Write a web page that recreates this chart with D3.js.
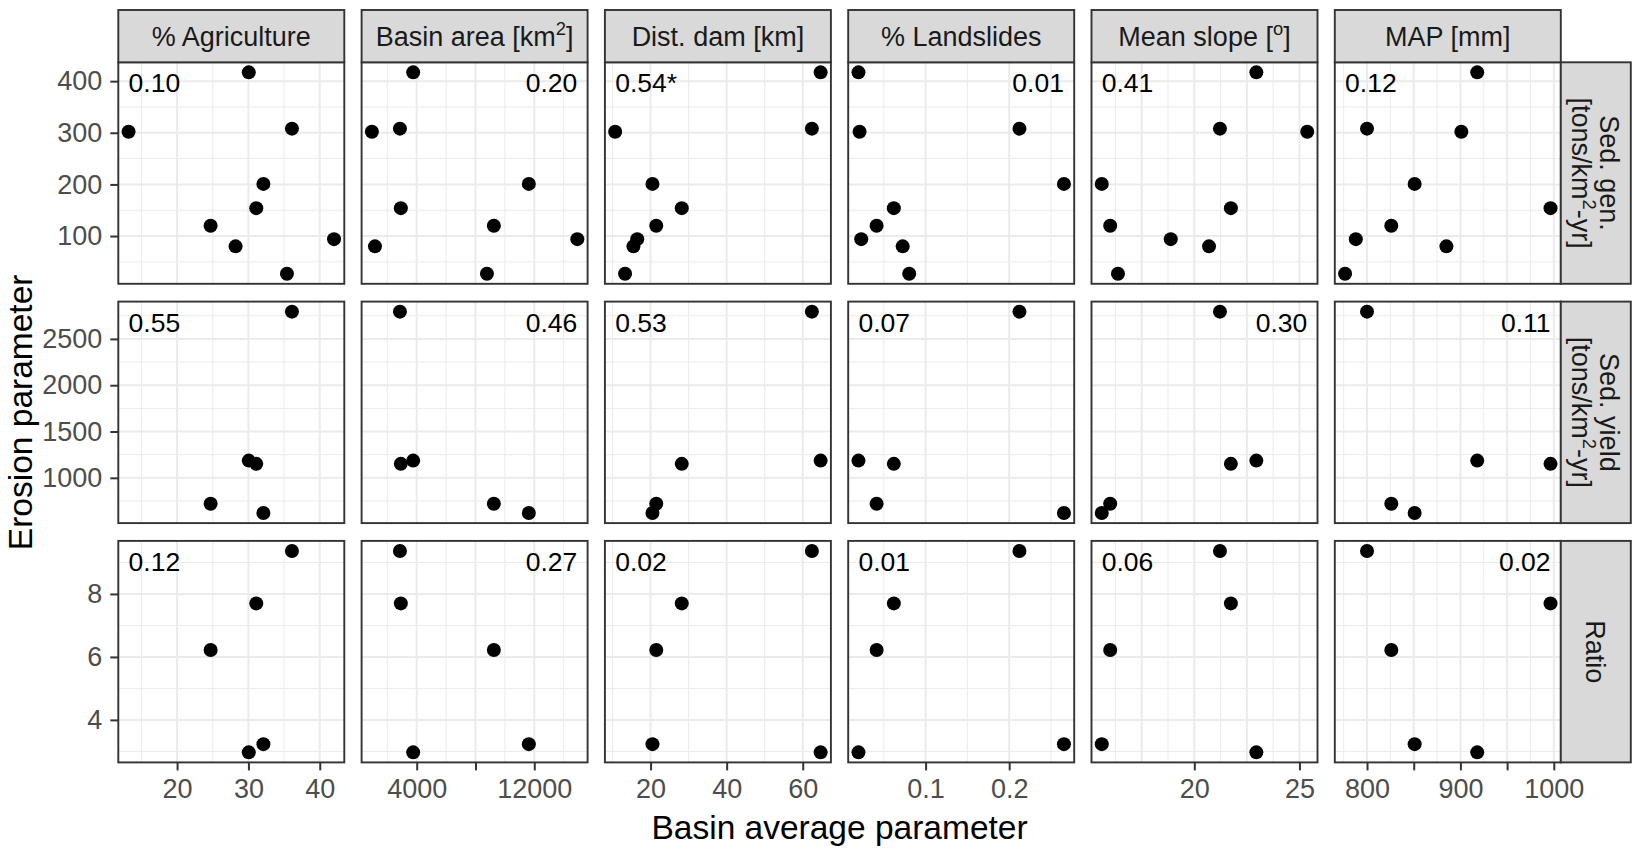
<!DOCTYPE html>
<html>
<head>
<meta charset="utf-8">
<script src="https://cdnjs.cloudflare.com/ajax/libs/d3/7.8.5/d3.min.js"></script>
<style>
  body { margin: 0; background: #fff; }
  text { font-family: "Liberation Sans", Arial, Helvetica, sans-serif; }
</style>
</head>
<body>
<div id="chart"></div>
<script>
// basin values, same basin order in every array (null = not measured)
var agriculture = [30.05, 13.2, 36.1, 32.1, 31.1, 24.7, 28.2, 42.0, 35.4];
var basinArea = [3760, 950, 2860, 11630, 2920, 9250, 1160, 14930, 8780];
var distDam = [64.7, 10.7, 62.4, 20.5, 28.2, 21.5, 15.5, 16.5, 13.3];
var landslides = [0.0197, 0.021, 0.2123, 0.2655, 0.062, 0.0414, 0.0726, 0.023, 0.0804];
var meanSlope = [22.95, 25.37, 21.22, 15.6, 21.74, 16.0, 20.7, 18.88, 16.37];
var precip = [918, 901, 800, 851, 996.5, 826, 885, 788, 776.5];

var sedGen = [417, 302, 308, 201, 154, 120, 80, 94, 27];
var sedYield = [1186, null, 2794, 620, 1151, 720, null, null, null];
var ratio = [2.97, null, 9.365, 3.23, 7.70, 6.22, null, null, null];

// facet labels (every 2nd piece is a superscript)
var colLabels = [["% Agriculture"], ["Basin area [km", "2", "]"], ["Dist. dam [km]"],
  ["% Landslides"], ["Mean slope [", "o", "]"], ["MAP [mm]"]];
var rowLabels = [[["Sed. gen."], ["[tons/km", "2", "-yr]"]],
  [["Sed. yield"], ["[tons/km", "2", "-yr]"]],
  [["Ratio"]]];

// r2 per panel [row][col] and the corner it goes in
var r2Labels = [["0.10", "0.20", "0.54*", "0.01", "0.41", "0.12"],
  ["0.55", "0.46", "0.53", "0.07", "0.30", "0.11"],
  ["0.12", "0.27", "0.02", "0.01", "0.06", "0.02"]];
var r2Side = [["l", "r", "l", "r", "l", "l"],
  ["l", "r", "l", "l", "r", "r"],
  ["l", "r", "l", "l", "l", "r"]];

// breaks
var xMajor = [[20, 30, 40], [4000, 8000, 12000], [20, 40, 60], [0.1, 0.2], [17.5, 20, 22.5, 25], [800, 850, 900, 950, 1000]];
var xMinor = [[15, 25, 35], [2000, 6000, 10000, 14000], [10, 30, 50], [0.05, 0.15, 0.25], [16.25, 18.75, 21.25, 23.75], [775, 825, 875, 925, 975]];
var xTicks = [[20, 30, 40], [4000, 8000, 12000], [20, 40, 60], [0.1, 0.2], [20, 25], [800, 850, 900, 950, 1000]];
var xTickLabels = [["20", "30", "40"], ["4000", "", "12000"], ["20", "40", "60"], ["0.1", "0.2"], ["20", "25"], ["800", "", "900", "", "1000"]];
var yMajor = [[100, 200, 300, 400], [1000, 1500, 2000, 2500], [4, 6, 8]];
var yMinor = [[50, 150, 250, 350], [750, 1250, 1750, 2250, 2750], [3, 5, 7, 9]];

var xData = [agriculture, basinArea, distDam, landslides, meanSlope, precip];
var yData = [sedGen, sedYield, ratio];

// layout
var svgW = 1632, svgH = 850;
var padL = 118.3, padT = 62.3, pw = 226, ph = 221.5, stepX = 243.3, stepY = 239.3;
var stripH = 52.3, stripW = 70;

var svg = d3.select("#chart").append("svg")
  .attr("width", svgW)
  .attr("height", svgH);

// ggplot style 5% padding
function expand(ext) {
  var d = (ext[1] - ext[0]) * 0.05;
  return [ext[0] - d, ext[1] + d];
}

var xScales = xData.map(function(vals) {
  return d3.scaleLinear().domain(expand(d3.extent(vals))).range([0, pw]);
});
var yScales = yData.map(function(vals) {
  return d3.scaleLinear().domain(expand(d3.extent(vals.filter(function(v) { return v != null; })))).range([ph, 0]);
});

function addPieces(sel, pieces, size) {
  pieces.forEach(function(p, k) {
    sel.append("tspan")
      .text(p)
      .attr("font-size", k % 2 ? size * 0.68 : size)
      .attr("dy", k % 2 ? -size * 0.38 : (k > 0 ? size * 0.38 : null));
  });
}

function styleAxis(a) {
  a.select(".domain").remove();
  a.selectAll(".tick line").attr("stroke", "#333333").attr("stroke-width", 2);
  a.selectAll(".tick text")
    .attr("fill", "#4d4d4d")
    .style("font-size", "27px")
    .style("font-family", '"Liberation Sans", Arial, sans-serif');
}

for (var r = 0; r < 3; r++) {
  for (var c = 0; c < 6; c++) {
    var x = xScales[c], y = yScales[r];
    var g = svg.append("g")
      .attr("transform", "translate(" + (padL + c * stepX) + "," + (padT + r * stepY) + ")");

    // grid
    g.selectAll(".vmin").data(xMinor[c]).enter().append("line")
      .attr("x1", function(d) { return x(d); }).attr("x2", function(d) { return x(d); })
      .attr("y1", 0).attr("y2", ph)
      .attr("stroke", "#ebebeb").attr("stroke-width", 1);
    g.selectAll(".hmin").data(yMinor[r]).enter().append("line")
      .attr("y1", function(d) { return y(d); }).attr("y2", function(d) { return y(d); })
      .attr("x1", 0).attr("x2", pw)
      .attr("stroke", "#ebebeb").attr("stroke-width", 1);
    g.selectAll(".vmaj").data(xMajor[c]).enter().append("line")
      .attr("x1", function(d) { return x(d); }).attr("x2", function(d) { return x(d); })
      .attr("y1", 0).attr("y2", ph)
      .attr("stroke", "#ebebeb").attr("stroke-width", 2);
    g.selectAll(".hmaj").data(yMajor[r]).enter().append("line")
      .attr("y1", function(d) { return y(d); }).attr("y2", function(d) { return y(d); })
      .attr("x1", 0).attr("x2", pw)
      .attr("stroke", "#ebebeb").attr("stroke-width", 2);

    // points
    var pts = xData[c].map(function(v, i) { return [v, yData[r][i]]; })
      .filter(function(d) { return d[1] != null; });
    g.selectAll("circle").data(pts).enter().append("circle")
      .attr("cx", function(d) { return x(d[0]); })
      .attr("cy", function(d) { return y(d[1]); })
      .attr("r", 7)
      .attr("fill", "black");

    // r2 label
    var ext = d3.extent(xData[c]);
    var isLeft = r2Side[r][c] == "l";
    g.append("text")
      .text(r2Labels[r][c])
      .attr("x", isLeft ? x(ext[0]) : x(ext[1]))
      .attr("y", 30)
      .attr("text-anchor", isLeft ? "start" : "end")
      .attr("font-size", 26.5)
      .attr("fill", "black");

    g.append("rect")
      .attr("width", pw).attr("height", ph)
      .attr("fill", "none").attr("stroke", "#333333").attr("stroke-width", 1.9);

    // axes
    if (c == 0) {
      var ya = g.append("g")
        .call(d3.axisLeft(y).tickValues(yMajor[r]).tickSize(8).tickPadding(8).tickFormat(d3.format("d")));
      styleAxis(ya);
    }
    if (r == 2) {
      var labs = xTickLabels[c];
      var xa = g.append("g")
        .attr("transform", "translate(0," + ph + ")")
        .call(d3.axisBottom(x).tickValues(xTicks[c]).tickSize(8).tickPadding(8)
          .tickFormat(function(d, i) { return labs[i]; }));
      styleAxis(xa);
    }
  }
}

// top strips
colLabels.forEach(function(lab, c) {
  var sx = padL + c * stepX;
  svg.append("rect")
    .attr("x", sx).attr("y", padT - stripH)
    .attr("width", pw).attr("height", stripH)
    .attr("fill", "#d9d9d9").attr("stroke", "#333333").attr("stroke-width", 1.9);
  var t = svg.append("text")
    .attr("x", sx + pw / 2)
    .attr("y", padT - stripH / 2 + 9.5)
    .attr("text-anchor", "middle")
    .attr("fill", "#1a1a1a");
  addPieces(t, lab, 27);
});

// right strips
rowLabels.forEach(function(lines, r) {
  var sx = padL + 5 * stepX + pw, sy = padT + r * stepY;
  svg.append("rect")
    .attr("x", sx).attr("y", sy)
    .attr("width", stripW).attr("height", ph)
    .attr("fill", "#d9d9d9").attr("stroke", "#333333").attr("stroke-width", 1.9);
  var tg = svg.append("g")
    .attr("transform", "translate(" + (sx + stripW / 2) + "," + (sy + ph / 2) + ") rotate(90)");
  lines.forEach(function(line, k) {
    var off = (k - (lines.length - 1) / 2) * 28;
    var t = tg.append("text")
      .attr("x", 0)
      .attr("y", off + 9.5)
      .attr("text-anchor", "middle")
      .attr("fill", "#1a1a1a");
    addPieces(t, line, 27);
  });
});

// axis titles
svg.append("text")
  .text("Basin average parameter")
  .attr("x", padL + (5 * stepX + pw) / 2)
  .attr("y", 839)
  .attr("text-anchor", "middle")
  .attr("font-size", 33.5);

svg.append("text")
  .text("Erosion parameter")
  .attr("transform", "translate(32," + (padT + (2 * stepY + ph) / 2) + ") rotate(-90)")
  .attr("text-anchor", "middle")
  .attr("font-size", 33.5);
</script>
</body>
</html>
